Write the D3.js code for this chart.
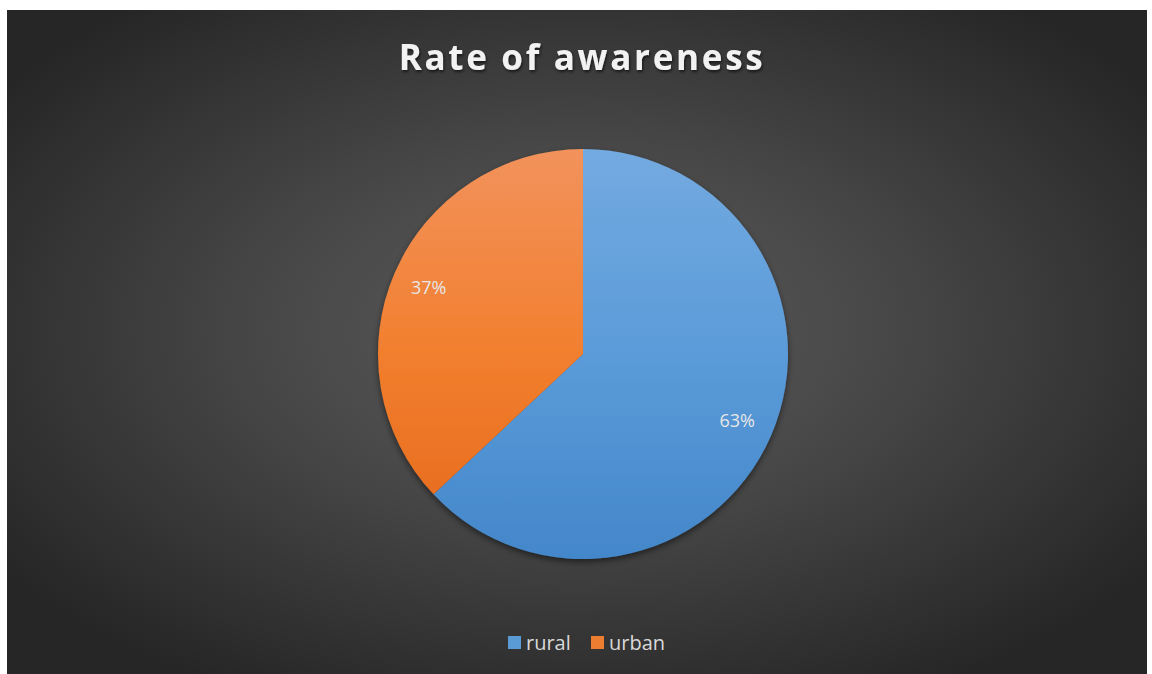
<!DOCTYPE html>
<html>
<head>
<meta charset="utf-8">
<script src="https://cdn.jsdelivr.net/npm/d3@7"></script>
<style>
  body { margin: 0; background: #fff; }
  svg { display: block; }
</style>
</head>
<body>
<svg id="chart"></svg>
<script>
const width = 1152;
const height = 674;

// data
const categories = ["rural", "urban"];
const values = [63, 37];
const colorsTop = ["#73aae0", "#f2925c"];
const colorsMid = ["#5b9bd9", "#f27f2e"];
const colorsBottom = ["#4387ca", "#e4681b"];
const legendColors = ["#5b9bd5", "#ed7d31"];

const svg = d3.select("#chart")
  .attr("width", width)
  .attr("height", height);

const defs = svg.append("defs");

const bg = defs.append("radialGradient")
  .attr("id", "bg")
  .attr("cx", "50%").attr("cy", "48%").attr("r", "62%");
bg.append("stop").attr("offset", "0%").attr("stop-color", "#5c5c5c");
bg.append("stop").attr("offset", "45%").attr("stop-color", "#474747");
bg.append("stop").attr("offset", "100%").attr("stop-color", "#262626");

categories.forEach((c, i) => {
  const g = defs.append("linearGradient")
    .attr("id", "grad" + i)
    .attr("gradientUnits", "userSpaceOnUse")
    .attr("x1", 0).attr("y1", -205).attr("x2", 0).attr("y2", 205);
  g.append("stop").attr("offset", "0%").attr("stop-color", colorsTop[i]);
  g.append("stop").attr("offset", "50%").attr("stop-color", colorsMid[i]);
  g.append("stop").attr("offset", "100%").attr("stop-color", colorsBottom[i]);
});

const shadow = defs.append("filter").attr("id", "shadow")
  .attr("x", "-20%").attr("y", "-20%").attr("width", "140%").attr("height", "140%");
shadow.append("feDropShadow")
  .attr("dx", 0).attr("dy", 3).attr("stdDeviation", 3)
  .attr("flood-color", "#000").attr("flood-opacity", 0.5);

const tshadow = defs.append("filter").attr("id", "tshadow");
tshadow.append("feDropShadow")
  .attr("dx", 1).attr("dy", 2).attr("stdDeviation", 1.5)
  .attr("flood-color", "#000").attr("flood-opacity", 0.6);

/* background */
svg.append("rect")
  .attr("x", 7).attr("y", 10)
  .attr("width", 1140).attr("height", 664)
  .attr("fill", "url(#bg)");

/* title */
svg.append("text")
  .attr("x", 582)
  .attr("y", 70)
  .attr("text-anchor", "middle")
  .attr("font-family", "'Open Sans', sans-serif")
  .attr("font-weight", "bold")
  .attr("font-size", 35)
  .attr("letter-spacing", 2.7)
  .attr("fill", "#f2f2f2")
  .attr("filter", "url(#tshadow)")
  .text("Rate of awareness");

/* pie */
const cx = 583, cy = 354, r = 205;

const pie = d3.pie().sort(null).value(d => d.value);
const arcs = pie(categories.map((c, i) => ({ name: c, value: values[i], i })));

const arc = d3.arc().innerRadius(0).outerRadius(r);
const labelArc = d3.arc().innerRadius(r * 0.82).outerRadius(r * 0.82);

const pieG = svg.append("g").attr("transform", `translate(${cx},${cy})`);

pieG.append("g").attr("filter", "url(#shadow)")
  .selectAll("path")
  .data(arcs)
  .enter()
  .append("path")
  .attr("d", arc)
  .attr("fill", d => `url(#grad${d.data.i})`);

const total = d3.sum(values);
pieG.selectAll("text.lbl")
  .data(arcs)
  .enter()
  .append("text")
  .attr("class", "lbl")
  .attr("transform", d => `translate(${labelArc.centroid(d)})`)
  .attr("text-anchor", "middle")
  .attr("dy", ".35em")
  .attr("font-family", "'Open Sans', sans-serif")
  .attr("font-size", 18)
  .attr("fill", "#e6e6e6")
  .text(d => Math.round(d.data.value / total * 100) + "%");

/* legend */
const legendX = [508, 591];
const legend = svg.append("g");
categories.forEach((c, i) => {
  legend.append("rect")
    .attr("x", legendX[i]).attr("y", 636)
    .attr("width", 13).attr("height", 13)
    .attr("fill", legendColors[i]);
  legend.append("text")
    .attr("x", legendX[i] + 18).attr("y", 650)
    .attr("font-family", "'Open Sans', sans-serif")
    .attr("font-size", 20)
    .attr("fill", "#d9d9d9")
    .text(c);
});
</script>
</body>
</html>
